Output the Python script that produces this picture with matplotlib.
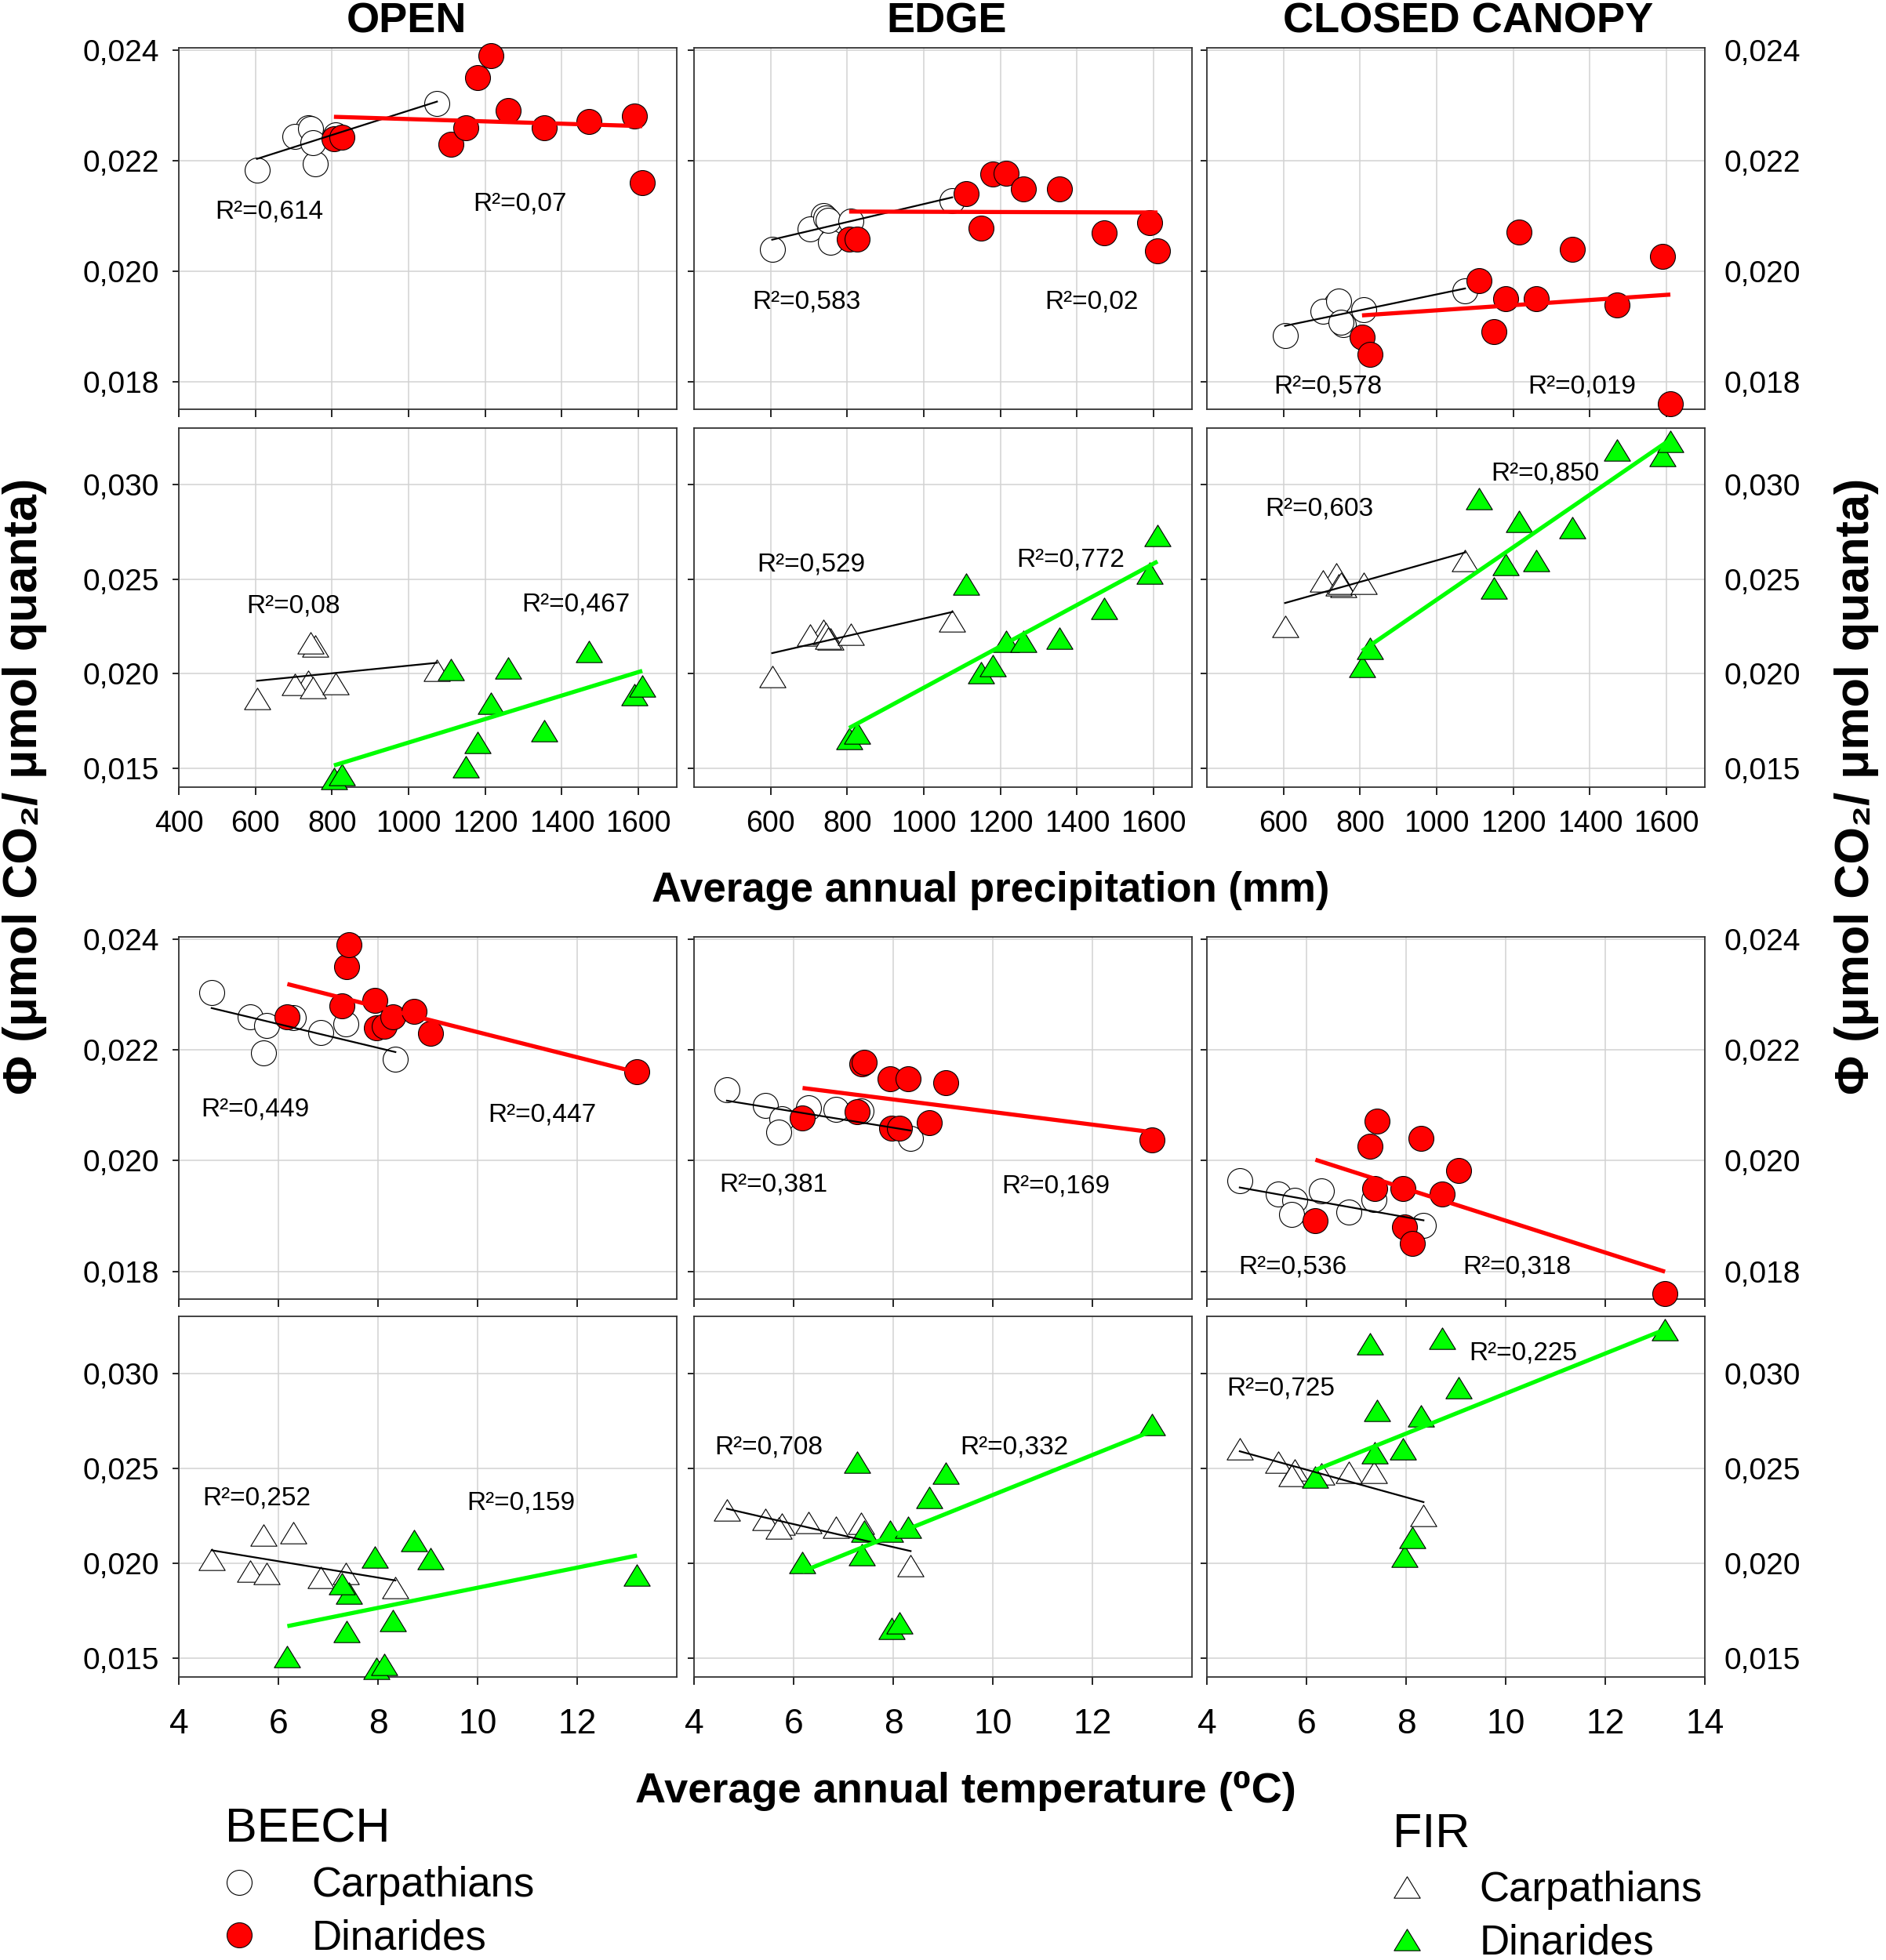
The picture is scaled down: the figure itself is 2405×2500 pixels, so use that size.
import numpy as np
import matplotlib.pyplot as plt
from matplotlib.lines import Line2D
from matplotlib.path import Path

plt.rcParams['font.family'] = ['Liberation Sans', 'DejaVu Sans']

# ---- site climate (same sites in every panel) ----
carp_precip = [1074, 738, 702, 756, 744, 750, 809, 604]
carp_temp = [4.66, 5.44, 5.76, 5.70, 6.30, 6.85, 7.36, 8.35]
dina_precip = [805, 825, 1110, 1150, 1180, 1215, 1260, 1355, 1470, 1590, 1610]
dina_temp = [7.97, 8.12, 9.06, 6.18, 7.37, 7.41, 7.94, 8.30, 8.72, 7.28, 13.2]

# ---- quantum yield, beech ----
beech_open_carp = [0.02303, 0.02260, 0.02244, 0.02194, 0.02258, 0.02232, 0.02247, 0.02183]
beech_edge_carp = [0.02128, 0.02100, 0.02076, 0.02052, 0.02096, 0.02092, 0.02090, 0.02040]
beech_closed_carp = [0.01964, 0.01940, 0.01928, 0.01903, 0.01946, 0.01907, 0.01930, 0.01883]
beech_open_dina = [0.02240, 0.02242, 0.02230, 0.02260, 0.02350, 0.02390, 0.02290, 0.02260,
                   0.02270, 0.02280, 0.02160]
beech_edge_dina = [0.02058, 0.02058, 0.02140, 0.02077, 0.02175, 0.02177, 0.02148, 0.02148,
                   0.02069, 0.02088, 0.02037]
beech_closed_dina = [0.01880, 0.01850, 0.01982, 0.01891, 0.01950, 0.02071, 0.01950, 0.02040,
                     0.01939, 0.02026, 0.01760]

# ---- quantum yield, fir ----
fir_open_carp = [0.02020, 0.01958, 0.01944, 0.02147, 0.02162, 0.01926, 0.01947, 0.01870]
fir_edge_carp = [0.02280, 0.02229, 0.02205, 0.02185, 0.02215, 0.02187, 0.02210, 0.01985]
fir_closed_carp = [0.02600, 0.02530, 0.02490, 0.02460, 0.02470, 0.02480, 0.02480, 0.02250]
fir_open_dina = [0.01445, 0.01467, 0.02022, 0.01508, 0.01638, 0.01842, 0.02031, 0.01697,
                 0.02118, 0.01890, 0.01936]
fir_edge_dina = [0.01658, 0.01686, 0.02473, 0.02005, 0.02045, 0.02170, 0.02170, 0.02187,
                 0.02345, 0.02533, 0.02730]
fir_closed_dina = [0.02037, 0.02134, 0.02925, 0.02455, 0.02580, 0.02805, 0.02600, 0.02775,
                   0.03185, 0.03155, 0.03230]

# ---- R2 labels (Carpathians, Dinarides) ----
r2_beech_precip = [('0,614', '0,07'), ('0,583', '0,02'), ('0,578', '0,019')]
r2_fir_precip = [('0,08', '0,467'), ('0,529', '0,772'), ('0,603', '0,850')]
r2_beech_temp = [('0,449', '0,447'), ('0,381', '0,169'), ('0,536', '0,318')]
r2_fir_temp = [('0,252', '0,159'), ('0,708', '0,332'), ('0,725', '0,225')]

canopies = ['OPEN', 'EDGE', 'CLOSED CANOPY']
beech_ticks = [0.018, 0.020, 0.022, 0.024]
beech_ticklabels = ['0,018', '0,020', '0,022', '0,024']
fir_ticks = [0.015, 0.020, 0.025, 0.030]
fir_ticklabels = ['0,015', '0,020', '0,025', '0,030']

# ---- layout ----
W, H = 2405, 2500
col_px = [(228, 863), (885, 1520), (1539, 2174)]
row_px = [(61, 522), (546, 1004), (1195, 1657), (1679, 2139)]

# where the R2 texts sit in each panel (data coords)
r2_pos = {
    0: [((494, 0.02108), (1168, 0.02121)), ((553, 0.01944), (1316, 0.01944)),
        ((575, 0.01791), (1238, 0.01791))],
    1: [((577, 0.02358), (1295, 0.02366)), ((564, 0.0258), (1241, 0.02602)),
        ((553, 0.02871), (1141, 0.03059))],
    2: [((4.44, 0.02092), (10.21, 0.02082)), ((4.50, 0.01956), (10.18, 0.01954)),
        ((4.64, 0.01808), (9.13, 0.01808))],
    3: [((4.48, 0.02341), (9.79, 0.02319)), ((4.42, 0.0261), (9.34, 0.0261)),
        ((4.40, 0.02922), (9.27, 0.03104))],
}

tri = Path([(-1, -0.82), (1, -0.82), (0, 0.82), (-1, -0.82)],
           [Path.MOVETO, Path.LINETO, Path.LINETO, Path.CLOSEPOLY])

beech_carp = [beech_open_carp, beech_edge_carp, beech_closed_carp]
beech_dina = [beech_open_dina, beech_edge_dina, beech_closed_dina]
fir_carp = [fir_open_carp, fir_edge_carp, fir_closed_carp]
fir_dina = [fir_open_dina, fir_edge_dina, fir_closed_dina]

rows = [
    # (x carp, x dina, y carp, y dina, species, r2, xvar)
    (carp_precip, dina_precip, beech_carp, beech_dina, 'beech', r2_beech_precip, 'p'),
    (carp_precip, dina_precip, fir_carp, fir_dina, 'fir', r2_fir_precip, 'p'),
    (carp_temp, dina_temp, beech_carp, beech_dina, 'beech', r2_beech_temp, 't'),
    (carp_temp, dina_temp, fir_carp, fir_dina, 'fir', r2_fir_temp, 't'),
]

fig = plt.figure(figsize=(W / 100, H / 100), dpi=100)

for r, (xc, xd, yc_all, yd_all, sp, r2, xvar) in enumerate(rows):
    for c in range(3):
        x0, x1 = col_px[c]
        y0, y1 = row_px[r]
        ax = fig.add_axes([x0 / W, 1 - y1 / H, (x1 - x0) / W, (y1 - y0) / H])
        yc = yc_all[c]
        yd = yd_all[c]

        if sp == 'beech':
            mk, ms = 'o', 23
            fc_d, lc_d = '#ff0000', '#ff0000'
        else:
            mk, ms = tri, 24
            fc_d, lc_d = '#00ff00', '#00ff00'

        ax.plot(xc, yc, ls='none', marker=mk, ms=ms, mfc='white', mec='black',
                mew=0.8, zorder=3, clip_on=False)
        ax.plot(xd, yd, ls='none', marker=mk, ms=ms, mfc=fc_d, mec='black',
                mew=0.8, zorder=4, clip_on=False)

        # linear regressions
        k, b = np.polyfit(xc, yc, 1)
        xs = np.array([min(xc), max(xc)])
        ax.plot(xs, k * xs + b, color='black', lw=1.6, zorder=5)
        k, b = np.polyfit(xd, yd, 1)
        xs = np.array([min(xd), max(xd)])
        ax.plot(xs, k * xs + b, color=lc_d, lw=3.8, zorder=6, solid_capstyle='butt')

        (pc, pd) = r2_pos[r][c]
        ax.text(pc[0], pc[1], 'R²=' + r2[c][0], fontsize=24, va='center', ha='left', zorder=7)
        ax.text(pd[0], pd[1], 'R²=' + r2[c][1], fontsize=24, va='center', ha='left', zorder=7)

        # axes
        if xvar == 'p':
            ax.set_xlim(400, 1700)
            xt = [400, 600, 800, 1000, 1200, 1400, 1600] if c == 0 else [600, 800, 1000, 1200, 1400, 1600]
            xfs, xpad = 27, 14
        else:
            ax.set_xlim(4, 14)
            xt = [4, 6, 8, 10, 12, 14] if c == 2 else [4, 6, 8, 10, 12]
            xfs, xpad = 32, 22
        ax.set_xticks(xt)
        ax.set_xticklabels([str(v) for v in xt])

        if sp == 'beech':
            ax.set_ylim(0.0175, 0.02404)
            ax.set_yticks(beech_ticks)
            ax.set_yticklabels(beech_ticklabels)
        else:
            ax.set_ylim(0.014, 0.033)
            ax.set_yticks(fir_ticks)
            ax.set_yticklabels(fir_ticklabels)

        ax.grid(True, color='#d2d2d2', lw=1.1, zorder=0)
        ax.set_axisbelow(True)
        for s in ax.spines.values():
            s.set_color('#333333')
            s.set_linewidth(1.3)

        ax.tick_params(axis='x', direction='out', length=7, width=1.2, pad=xpad,
                       labelsize=xfs, labelbottom=(r in (1, 3)))
        ax.tick_params(axis='y', direction='out', length=6, width=1.2, pad=12,
                       labelsize=28, labelleft=(c == 0))
        if c == 2:
            ax.tick_params(axis='y', right=False, labelright=True, pad=12)

# column titles
title_x = [518, 1207, 1872]
for name, tx in zip(canopies, title_x):
    fig.text(tx / W, 1 - 27 / H, name, fontsize=39, fontweight='bold',
             ha='center', va='center')

fig.text(1263 / W, 1 - 1136 / H, 'Average annual precipitation (mm)',
         fontsize=38, fontweight='bold', ha='center', va='center')
fig.text(1231 / W, 1 - 2285 / H, 'Average annual temperature (⁰C)',
         fontsize=39, fontweight='bold', ha='center', va='center')

ylab = 'Φ (μmol CO₂/ μmol quanta)'
fig.text(32 / W, 1 - 1003 / H, ylab, fontsize=44, fontweight='bold',
         rotation=90, ha='center', va='center')
fig.text(2368 / W, 1 - 1003 / H, ylab, fontsize=44, fontweight='bold',
         rotation=90, ha='center', va='center')

# legends
beech_handles = [
    Line2D([], [], ls='none', marker='o', ms=23, mfc='white', mec='black', mew=0.8),
    Line2D([], [], ls='none', marker='o', ms=23, mfc='#ff0000', mec='black', mew=0.8),
]
fir_handles = [
    Line2D([], [], ls='none', marker=tri, ms=24, mfc='white', mec='black', mew=0.8),
    Line2D([], [], ls='none', marker=tri, ms=24, mfc='#00ff00', mec='black', mew=0.8),
]
leg_kw = dict(frameon=False, fontsize=38, title_fontsize=44, alignment='left',
              handlelength=0.7, handletextpad=1.4, labelspacing=0.33, borderpad=0,
              borderaxespad=0, loc='upper left')
fig.legend(beech_handles, ['Carpathians', 'Dinarides'], title='BEECH',
           bbox_to_anchor=(287 / W, 1 - 2306 / H), **leg_kw)
fig.legend(fir_handles, ['Carpathians', 'Dinarides'], title='FIR',
           bbox_to_anchor=(1776 / W, 1 - 2312 / H), **leg_kw)

fig.savefig('out.png', dpi=100)
